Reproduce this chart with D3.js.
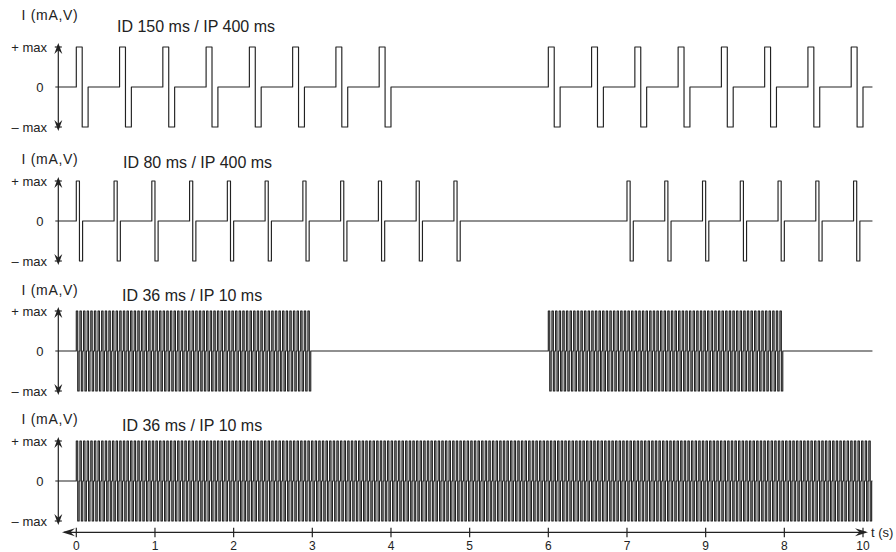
<html>
  <head>
    <meta charset="utf-8">
    <style>
      body { margin: 0; background: #fff; }
      text { font-family: "Liberation Sans", Arial, Helvetica, sans-serif; fill: #222; }
    </style>
  </head>
  <body>
    <div id="vis"></div>
    <script src="https://d3js.org/d3.v7.min.js"></script>
    <script>
      // stimulation parameters (times in s, position on the time axis)
      const titles = ['ID 150 ms / IP 400 ms', 'ID 80 ms / IP 400 ms', 'ID 36 ms / IP 10 ms', 'ID 36 ms / IP 10 ms']
      const pulseId = [0.150, 0.080, 0.036, 0.036]     // impulse duration
      const pulsePause = [0.400, 0.400, 0.010, 0.010]  // pause between impulses
      const bursts = [
        [[0, 4], [6, 10.12]],
        [[0, 4.9], [7, 10.12]],
        [[0, 3], [6, 9]],
        [[0, 10.12]]
      ]
      const traceEnd = 10.12
      const xTickValues = [0, 1, 2, 3, 4, 5, 6, 7, 8, 9, 10]
      const xTickLabels = ['0', '1', '2', '3', '4', '5', '6', '7', '9', '8', '10']
      const yLabels = ['+ max', '0', '\u2013 max']

      // canvas
      const W = 896, H = 552
      const AXIS_X = 58.3
      const panels = [
        { zero: 87,  unitY: 20,  titleX: 117, titleY: 32 },
        { zero: 221, unitY: 164, titleX: 123, titleY: 168 },
        { zero: 351, unitY: 295, titleX: 122, titleY: 301 },
        { zero: 481, unitY: 424, titleX: 122, titleY: 430.5 }
      ]
      const AMP = 40
      const COLOR = '#222'

      const svg = d3.select('#vis').append('svg')
        .attr('width', W).attr('height', H)

      const x = d3.scaleLinear().domain([0, 10]).range([76.3, 863])

      // build square biphasic pulse trace for one panel
      function trace(i) {
        const id = pulseId[i], period = pulseId[i] + pulsePause[i]
        const pts = [[x.invert(AXIS_X - 3), 0]]
        bursts[i].forEach(([s, e]) => {
          for (let k = 0; s + k * period + id <= e + 1e-9; k++) {
            const t = s + k * period
            pts.push([t, 0], [t, 1], [t + id / 2, 1], [t + id / 2, -1], [t + id, -1], [t + id, 0])
          }
        })
        pts.push([traceEnd, 0])
        return pts
      }

      // arrow head pointing along (dx, dy) with tip at (tx, ty)
      function arrow(tx, ty, dx, dy, len, half) {
        const px = -dy, py = dx
        const bx = tx - dx * len, by = ty - dy * len
        const nx = tx - dx * len * 0.65, ny = ty - dy * len * 0.65
        return `M${tx},${ty}L${bx + px * half},${by + py * half}L${nx},${ny}L${bx - px * half},${by - py * half}Z`
      }

      panels.forEach((p, i) => {
        const y = d3.scaleLinear().domain([-1, 1]).range([p.zero + AMP, p.zero - AMP])
        const g = svg.append('g')

        // vertical axis with arrows
        g.append('line')
          .attr('x1', AXIS_X).attr('x2', AXIS_X)
          .attr('y1', y(1) - 2).attr('y2', y(-1) + 2)
          .attr('stroke', COLOR).attr('stroke-width', 1.2)
        g.append('path').attr('d', arrow(AXIS_X, y(1) - 4, 0, -1, 11, 4)).attr('fill', COLOR)
        g.append('path').attr('d', arrow(AXIS_X, y(-1) + 4, 0, 1, 11, 4)).attr('fill', COLOR)
        ;[1, -1].forEach(v => g.append('line')
          .attr('x1', AXIS_X - 3.5).attr('x2', AXIS_X + 3.5)
          .attr('y1', y(v)).attr('y2', y(v))
          .attr('stroke', COLOR).attr('stroke-width', 1.2))

        // y labels
        g.selectAll('text.yl').data([1, 0, -1]).enter().append('text')
          .attr('class', 'yl')
          .attr('x', (d, j) => j === 1 ? 43.5 : 47)
          .attr('y', d => y(d) + 4.5)
          .attr('text-anchor', 'end')
          .attr('font-size', 13)
          .text((d, j) => yLabels[j])

        g.append('text').attr('x', 21.5).attr('y', p.unitY)
          .attr('font-size', 14).attr('letter-spacing', 0.7).text('I (mA,V)')
        g.append('text').attr('x', p.titleX).attr('y', p.titleY)
          .attr('font-size', 16).text(titles[i])

        // pulse trace
        const line = d3.line().x(d => x(d[0])).y(d => y(d[1]))
        g.append('path')
          .attr('d', line(trace(i)))
          .attr('fill', 'none')
          .attr('stroke', COLOR)
          .attr('stroke-width', 1.15)
          .attr('stroke-linejoin', 'round')
      })

      // time axis
      const AY = 532.3
      const gx = svg.append('g')
      gx.append('line').attr('x1', 64).attr('x2', 866).attr('y1', AY).attr('y2', AY)
        .attr('stroke', COLOR).attr('stroke-width', 1.2)
      gx.append('path').attr('d', arrow(62, AY, -1, 0, 13, 4)).attr('fill', COLOR)
      gx.append('path').attr('d', arrow(868, AY, 1, 0, 13, 4)).attr('fill', COLOR)
      gx.selectAll('line.tick').data(xTickValues).enter().append('line')
        .attr('class', 'tick')
        .attr('x1', d => x(d)).attr('x2', d => x(d))
        .attr('y1', AY - 4.5).attr('y2', AY + 5)
        .attr('stroke', COLOR).attr('stroke-width', 1.2)
      gx.selectAll('text.tl').data(xTickValues).enter().append('text')
        .attr('class', 'tl')
        .attr('x', d => x(d)).attr('y', 549.5)
        .attr('text-anchor', 'middle')
        .attr('font-size', 12)
        .text((d, j) => xTickLabels[j])
      gx.append('text').attr('x', 871).attr('y', 537).attr('font-size', 13).text('t (s)')
    </script>
  </body>
</html>
